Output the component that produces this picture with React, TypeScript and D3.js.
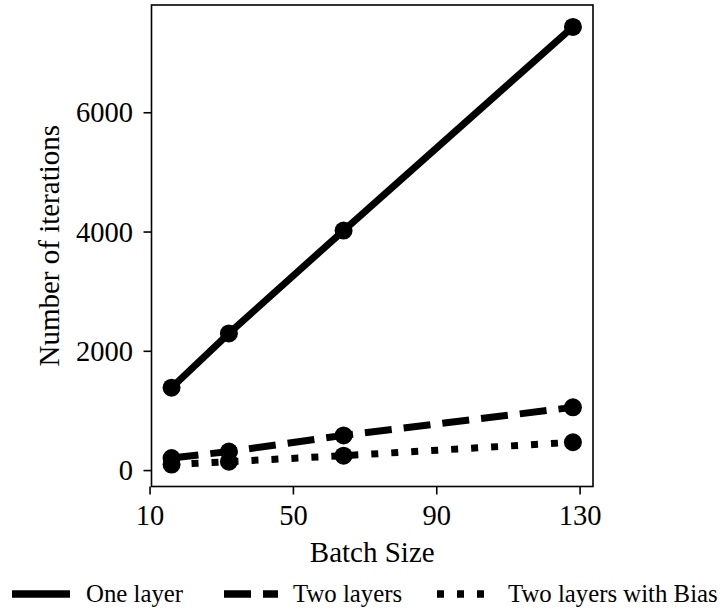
import React, { useEffect, useRef } from "react";
import * as d3 from "d3";

// batch sizes on the x axis
const batchSizes = [16, 32, 64, 128];

// iterations needed
const oneLayer = [1390, 2300, 4025, 7440];
const twoLayers = [210, 320, 590, 1060];
const twoLayersBias = [100, 150, 250, 475];

const seriesNames = ["One layer", "Two layers", "Two layers with Bias"];
const xTicks = [10, 50, 90, 130];
const yTicks = [0, 2000, 4000, 6000];

const FONT = "'Liberation Serif', 'Times New Roman', serif";

export default function App() {
  const ref = useRef<SVGSVGElement | null>(null);

  useEffect(() => {
    const svg = d3.select(ref.current);
    svg.selectAll("*").remove();

    const left = 151.5, right = 593, top = 5, bottom = 486.5;
    const lw = 7;
    const dashes = [null, "27 12", "7 13"];

    const all = [oneLayer, twoLayers, twoLayersBias];
    const series = all.map((vals, i) => ({
      name: seriesNames[i],
      dash: dashes[i],
      points: vals.map((v, j) => ({ x: batchSizes[j], y: v })),
    }));

    // matplotlib-like 5% margins
    const xMin = d3.min(batchSizes)!, xMax = d3.max(batchSizes)!;
    const yMin = d3.min(all.flat())!, yMax = d3.max(all.flat())!;
    const xm = (xMax - xMin) * 0.05, ym = (yMax - yMin) * 0.05;

    const x = d3.scaleLinear().domain([xMin - xm, xMax + xm]).range([left, right]);
    const y = d3.scaleLinear().domain([yMin - ym, yMax + ym]).range([bottom, top]);

    const line = d3.line<{ x: number; y: number }>()
      .x(d => x(d.x))
      .y(d => y(d.y));

    series.forEach(s => {
      svg.append("path")
        .datum(s.points)
        .attr("d", line)
        .attr("fill", "none")
        .attr("stroke", "#000")
        .attr("stroke-width", lw)
        .attr("stroke-dasharray", s.dash)
        .attr("stroke-linecap", "butt");

      svg.selectAll(null)
        .data(s.points)
        .enter()
        .append("circle")
        .attr("cx", d => x(d.x))
        .attr("cy", d => y(d.y))
        .attr("r", 9)
        .attr("fill", "#000");
    });

    // frame
    svg.append("rect")
      .attr("x", left)
      .attr("y", top)
      .attr("width", right - left)
      .attr("height", bottom - top)
      .attr("fill", "none")
      .attr("stroke", "#000")
      .attr("stroke-width", 1.6);

    // x ticks
    const xt = svg.append("g");
    xTicks.forEach(t => {
      xt.append("line")
        .attr("x1", x(t)).attr("x2", x(t))
        .attr("y1", bottom).attr("y2", bottom + 8)
        .attr("stroke", "#000").attr("stroke-width", 1.6);
      xt.append("text")
        .attr("x", x(t))
        .attr("y", 525)
        .attr("text-anchor", "middle")
        .style("font-family", FONT)
        .style("font-size", "28.5px")
        .text(t);
    });

    // y ticks
    const yt = svg.append("g");
    yTicks.forEach(t => {
      yt.append("line")
        .attr("x1", left - 8).attr("x2", left)
        .attr("y1", y(t)).attr("y2", y(t))
        .attr("stroke", "#000").attr("stroke-width", 1.6);
      yt.append("text")
        .attr("x", 133)
        .attr("y", y(t) + 9.5)
        .attr("text-anchor", "end")
        .style("font-family", FONT)
        .style("font-size", "28.5px")
        .text(t);
    });

    svg.append("text")
      .attr("x", (left + right) / 2)
      .attr("y", 562)
      .attr("text-anchor", "middle")
      .style("font-family", FONT)
      .style("font-size", "29px")
      .text("Batch Size");

    svg.append("text")
      .attr("transform", `translate(59,${(top + bottom) / 2}) rotate(-90)`)
      .attr("text-anchor", "middle")
      .style("font-family", FONT)
      .style("font-size", "29px")
      .text("Number of iterations");

    // legend below the plot
    const handles = [
      { x1: 12, x2: 70, tx: 86 },
      { x1: 224, x2: 278, tx: 293 },
      { x1: 437, x2: 485, tx: 508 },
    ];
    series.forEach((s, i) => {
      const h = handles[i];
      svg.append("line")
        .attr("x1", h.x1).attr("x2", h.x2)
        .attr("y1", 594).attr("y2", 594)
        .attr("stroke", "#000")
        .attr("stroke-width", 7.5)
        .attr("stroke-dasharray", s.dash);
      svg.append("text")
        .attr("x", h.tx)
        .attr("y", 602)
        .style("font-family", FONT)
        .style("font-size", "24.8px")
        .text(s.name);
    });
  }, []);

  return (
    <svg
      ref={ref}
      width={723}
      height={615}
      style={{ position: "absolute", left: 0, top: 0, background: "#fff" }}
    />
  );
}
